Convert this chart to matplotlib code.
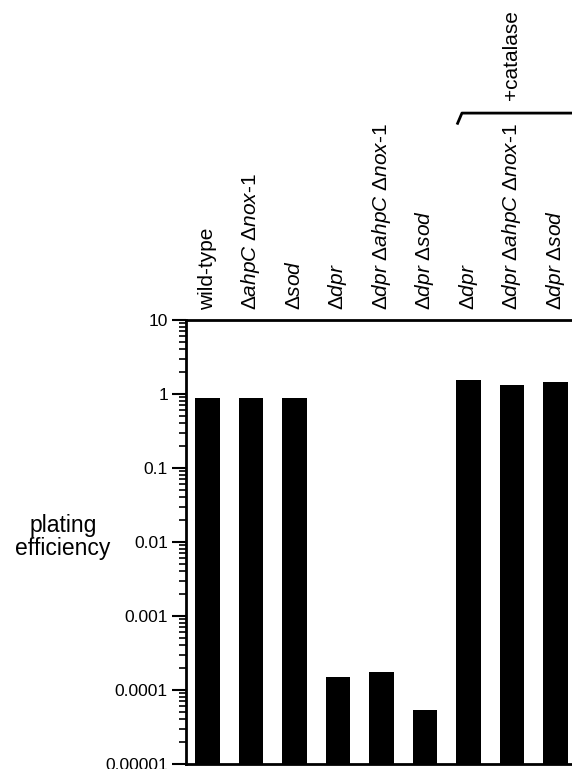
import numpy as np
import matplotlib.pyplot as plt

plt.rcParams['font.family'] = ['Liberation Sans', 'DejaVu Sans']
plt.rcParams['mathtext.fontset'] = 'custom'
plt.rcParams['mathtext.rm'] = 'Liberation Sans'
plt.rcParams['mathtext.it'] = 'Liberation Sans:italic'

labels = ["wild-type",
          "Δ$\\mathit{ahpC}$ Δ$\\mathit{nox}$-$\\mathit{1}$",
          "Δ$\\mathit{sod}$",
          "Δ$\\mathit{dpr}$",
          "Δ$\\mathit{dpr}$ Δ$\\mathit{ahpC}$ Δ$\\mathit{nox}$-$\\mathit{1}$",
          "Δ$\\mathit{dpr}$ Δ$\\mathit{sod}$",
          "Δ$\\mathit{dpr}$",
          "Δ$\\mathit{dpr}$ Δ$\\mathit{ahpC}$ Δ$\\mathit{nox}$-$\\mathit{1}$",
          "Δ$\\mathit{dpr}$ Δ$\\mathit{sod}$"]
efficiency = [0.89, 0.89, 0.89, 1.48e-4, 1.73e-4, 5.3e-5, 1.53, 1.31, 1.44]
yticks = [1e-5, 1e-4, 1e-3, 1e-2, 1e-1, 1, 10]
yticklabels = ["0.00001", "0.0001", "0.001", "0.01", "0.1", "1", "10"]

fs = 15
ymin = 1e-5

fig = plt.figure(figsize=(5.72, 7.69), dpi=100)
ax = fig.add_axes([186 / 572, 1 - 764 / 769, 386 / 572, 444 / 769])

x = np.arange(len(efficiency))
ax.bar(x, np.array(efficiency) - ymin, width=0.57, color="black", bottom=ymin)
ax.set_yscale("log")
ax.set_ylim(ymin, 10)
ax.set_xlim(-0.494, 8.38)
ax.set_yticks(yticks)
ax.set_yticklabels(yticklabels, fontsize=12.5)
ax.set_xticks([])
ax.tick_params(axis="y", which="major", direction="out", length=10, width=1.5, pad=3)
ax.tick_params(axis="y", which="minor", direction="out", length=5, width=1.2)
ax.spines["right"].set_visible(False)
for s in ["left", "top", "bottom"]:
    ax.spines[s].set_linewidth(2)

# column labels above the plot
for xi, lab in zip(x, labels):
    ax.text(xi, 1.022, lab, rotation=90, ha="center", va="bottom", fontsize=fs,
            transform=ax.get_xaxis_transform())

# bracket for the catalase group
tr = ax.get_xaxis_transform()
ax.plot([5.75, 5.85, 8.4], [1.443, 1.466, 1.466], color="black", lw=2,
        transform=tr, clip_on=False)
ax.plot([8.4, 8.4], [1.466, 1.447], color="black", lw=2, transform=tr, clip_on=False)
ax.text(7.0, 1.495, "+catalase", rotation=90, ha="center", va="bottom", fontsize=fs,
        transform=tr)

fig.text(63 / 572, 1 - 537 / 769, "plating\nefficiency", ha="center", va="center",
         fontsize=16.5, linespacing=0.95)

fig.savefig("out.png", dpi=100)
